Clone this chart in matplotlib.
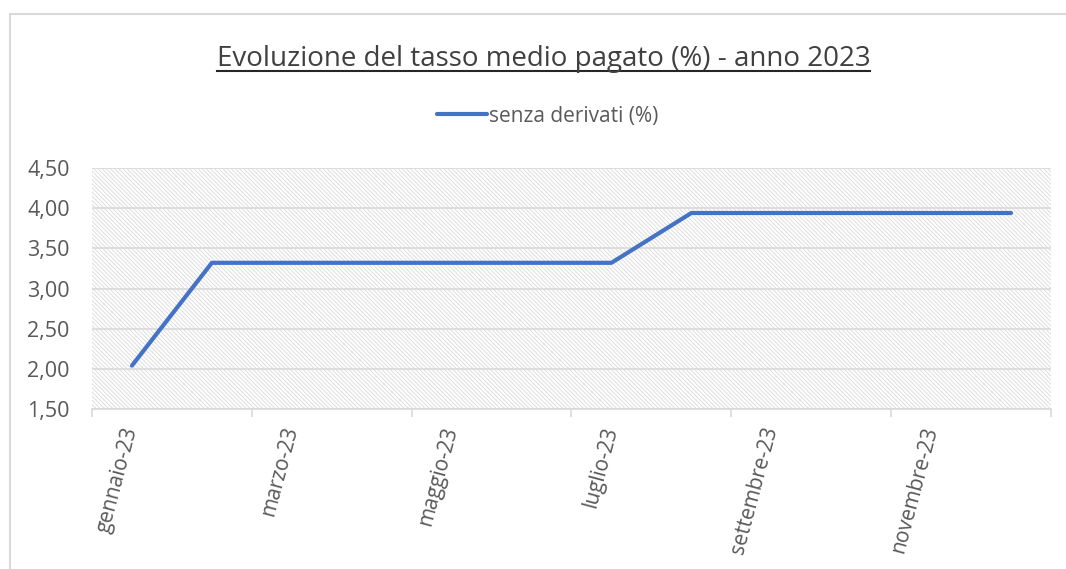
import matplotlib.pyplot as plt
from matplotlib.patches import Rectangle
from matplotlib.lines import Line2D
from matplotlib.ticker import FixedLocator, FuncFormatter
import matplotlib as mpl

# Data
months = ['gennaio-23', 'febbraio-23', 'marzo-23', 'aprile-23', 'maggio-23', 'giugno-23',
          'luglio-23', 'agosto-23', 'settembre-23', 'ottobre-23', 'novembre-23', 'dicembre-23']
rate = [2.04, 3.32, 3.32, 3.32, 3.32, 3.32, 3.32, 3.94, 3.94, 3.94, 3.94, 3.94]
series_name = 'senza derivati (%)'
title = 'Evoluzione del tasso medio pagato (%) - anno 2023'

plt.rcParams['font.family'] = ['Open Sans', 'DejaVu Sans']
mpl.rcParams['hatch.color'] = '#dedede'
mpl.rcParams['hatch.linewidth'] = 0.7

text_col = '#595959'
line_col = '#4472C4'

fig = plt.figure(figsize=(10.66, 5.69), dpi=100)
ax = fig.add_axes([0.0863, 0.2812, 0.8996, 0.4235])

x = list(range(len(months)))
ax.set_xlim(-0.5, len(months) - 0.5)
ax.set_ylim(1.5, 4.5)

# hatched plot area
ax.add_patch(Rectangle((0, 0), 1, 1, transform=ax.transAxes, facecolor='white',
                       edgecolor='#dedede', hatch='\\' * 8, linewidth=0, zorder=0))

ax.set_yticks([1.5, 2.0, 2.5, 3.0, 3.5, 4.0, 4.5])
ax.yaxis.set_major_formatter(FuncFormatter(lambda v, p: f'{v:.2f}'.replace('.', ',')))
ax.grid(axis='y', color='#d9d9d9', linewidth=1.2, zorder=1)
ax.tick_params(axis='y', length=0, pad=16, labelsize=15.5, labelcolor=text_col)

ax.plot(x, rate, color=line_col, linewidth=3, solid_capstyle='round', zorder=3, label=series_name)

# category ticks every two months, labels at category centres
ax.xaxis.set_major_locator(FixedLocator([i - 0.5 for i in range(0, len(months) + 1, 2)]))
ax.xaxis.set_major_formatter(FuncFormatter(lambda v, p: ''))
ax.xaxis.set_minor_locator(FixedLocator(x[::2]))
ax.set_xticklabels(months[::2], minor=True)
ax.tick_params(axis='x', which='major', length=6, color='#d9d9d9', width=1.2)
ax.tick_params(axis='x', which='minor', length=0, pad=13, labelsize=15, labelcolor=text_col)
for lab in ax.get_xticklabels(minor=True):
    lab.set_rotation(75)
    lab.set_rotation_mode('anchor')
    lab.set_ha('right')
    lab.set_va('center')

for s in ['top', 'right', 'left']:
    ax.spines[s].set_visible(False)
ax.spines['bottom'].set_color('#d9d9d9')
ax.spines['bottom'].set_linewidth(1.2)

# title with underline
t = fig.text(0.510, 0.884, title, ha='center', va='baseline', fontsize=20, color='#404040')

leg = fig.legend(loc='center', bbox_to_anchor=(0.514, 0.796), frameon=False, fontsize=15,
                 handlelength=2.4, handletextpad=0.1, labelcolor=text_col)

# chart border (left and top)
fig.add_artist(Line2D([0.0095, 0.0095], [0, 0.975], color='#d9d9d9', linewidth=1.5))
fig.add_artist(Line2D([0.0095, 1.0], [0.975, 0.975], color='#d9d9d9', linewidth=1.5))

fig.canvas.draw()
bb = t.get_window_extent().transformed(fig.transFigure.inverted())
fig.add_artist(Line2D([bb.x0, bb.x1], [0.876, 0.876], color='#262626', linewidth=1.5))

fig.savefig('out.png', dpi=100)
